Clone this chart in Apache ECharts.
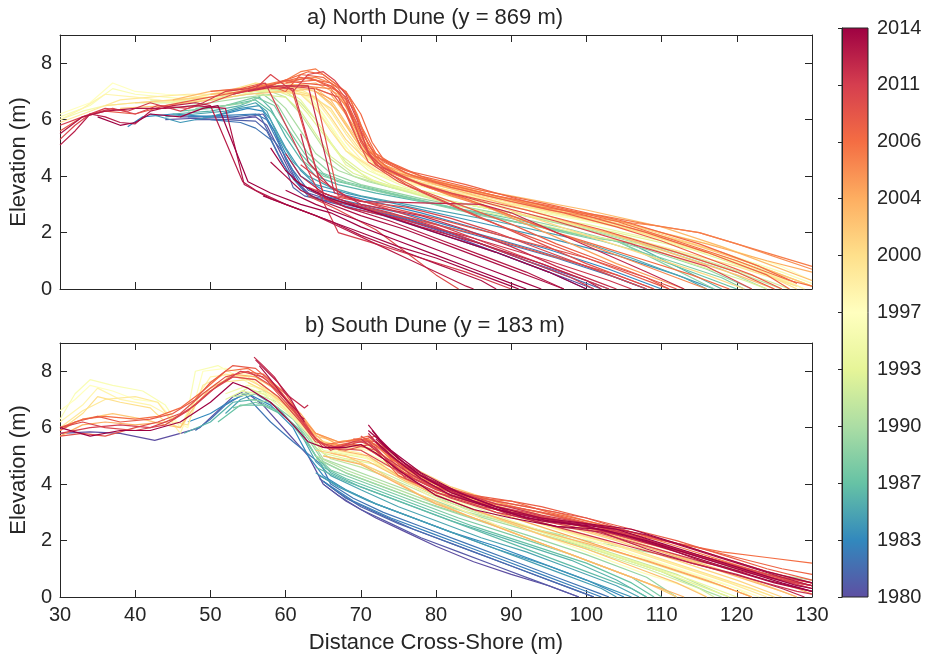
<!DOCTYPE html>
<html>
<head>
<meta charset="utf-8">
<script src="https://cdn.jsdelivr.net/npm/echarts@6/dist/echarts.min.js"></script>
<style>
html,body{margin:0;padding:0;background:#fff;}
#chart{width:932px;height:658px;}
</style>
</head>
<body>
<div id="chart"></div>
<script>
// ---- Colorbar tick labels (evenly spaced along the colorbar) ----
const colorbarLabels = ['1980','1983','1987','1990','1993','1997','2000','2004','2006','2011','2014'];
const colorbarYears = [1980,1983,1987,1990,1993,1997,2000,2004,2006,2011,2014];
const xTicks = {min:30, max:130, interval:10};
const yTicks = {min:0, max:9, interval:2};

// ---- North dune profiles: [surveyYear, [x1,y1, x2,y2, ...]] ----
const north1980s = [
  [1980,   [44,6.0, 48,6.05, 52,6.0, 56,6.1, 57.5,5.8, 59,5.0, 60.5,4.2, 62,3.6, 64,3.2, 68,3.0, 74,2.6, 80,2.1, 86,1.5, 92,0.9, 98,0.3, 101,0]],
  [1980.5, [46,6.1, 50,6.1, 54,6.05, 57,6.2, 58.5,5.6, 60,4.6, 61.5,3.8, 63,3.4, 66,3.15, 72,2.8, 78,2.3, 85,1.7, 92,1.0, 100,0.3, 103,0]],
  [1981,   [48,6.0, 52,6.0, 56,5.95, 57.5,5.6, 59,4.8, 60,4.3, 61,3.6, 62.5,3.3, 67,3.0, 73,2.6, 80,2.0, 88,1.3, 95,0.6, 100,0]],
  [1981.5, [49,6.1, 53,6.1, 56.5,6.2, 58,5.4, 59.5,4.9, 61,4.2, 63,3.5, 66,3.2, 70,2.9, 76,2.5, 83,1.9, 90,1.2, 97,0.5, 102,0]],
  [1982,   [50,6.0, 54,5.9, 56,5.7, 58,5.3, 59.5,4.5, 61,3.9, 63,3.3, 67,3.1, 72,2.8, 80,2.3, 88,1.7, 96,1.1, 104,0.4, 108,0]],
  [1982.5, [47,6.1, 52,6.15, 56,6.2, 57.5,6.0, 59,5.2, 60.5,4.4, 62,3.7, 65,3.3, 70,3.0, 77,2.6, 85,2.0, 93,1.4, 100,0.8, 106,0.2, 108,0]],
  [1983,   [39,5.75, 41,6.1, 45,6.2, 50,6.1, 55,6.4, 57,6.3, 58.5,5.6, 60,4.8, 62,4.0, 65,3.5, 70,3.2, 78,2.7, 86,2.1, 95,1.4, 103,0.7, 110,0]],
  [1984,   [42,6.2, 46,5.9, 50,6.1, 54,6.4, 56.5,6.5, 58,6.0, 60,5.0, 62,4.2, 64,3.7, 68,3.4, 75,3.0, 85,2.4, 95,1.8, 104,1.2, 112,0.5, 117,0]],
  [1985,   [44,6.1, 48,6.2, 52,6.3, 56,6.6, 57.5,6.3, 59,5.4, 61,4.5, 63,4.0, 66,3.6, 70,3.3, 78,2.9, 88,2.4, 98,1.8, 106,1.1, 113,0.4, 116,0]],
  [1986,   [45,6.2, 50,6.3, 54,6.5, 56.5,6.8, 58,6.4, 60,5.4, 62,4.6, 64,4.0, 67,3.7, 72,3.4, 80,3.0, 90,2.4, 100,1.9, 106,1.6, 112,0.8, 118,0]],
  [1987,   [46,6.3, 50,6.4, 54,6.6, 56,6.7, 58,6.3, 60,5.6, 62,4.8, 64,4.2, 67,3.8, 72,3.5, 80,3.0, 90,2.5, 98,2.0, 104,1.7, 110,1.0, 117,0.3, 120,0]],
  [1988,   [48,6.4, 52,6.5, 56,6.8, 58.5,6.5, 60.5,5.6, 62.5,4.8, 65,4.1, 68,3.8, 74,3.4, 82,2.9, 92,2.3, 102,1.7, 110,1.1, 118,0.4, 121,0]],
  [1988.5, [62,4.6, 65,4.0, 70,3.6, 78,3.1, 86,2.6, 94,2.2, 101,1.8, 104,1.7, 108,1.2, 114,0.4, 117,0]],
  [1989,   [47,6.3, 52,6.5, 55,6.6, 57,6.9, 59,6.5, 61,5.6, 63,4.8, 66,4.1, 70,3.7, 78,3.2, 88,2.7, 98,2.1, 108,1.4, 116,0.7, 122,0]]
];
const north1990s = [
  [1990,   [45,6.4, 50,6.6, 55,6.8, 58,6.9, 60,6.4, 62,5.6, 64,4.8, 67,4.2, 71,3.8, 80,3.2, 90,2.7, 100,2.1, 110,1.4, 118,0.7, 124,0]],
  [1991,   [40,6.6, 45,6.6, 50,6.7, 55,6.9, 58,7.0, 60,6.8, 62,6.2, 64,5.4, 66,4.6, 69,4.0, 74,3.6, 82,3.1, 92,2.6, 102,2.0, 112,1.3, 120,0.6, 126,0]],
  [1992,   [42,6.7, 48,6.6, 53,6.9, 57,7.1, 60,7.0, 62,6.6, 64,6.0, 66,5.2, 68,4.5, 71,3.9, 77,3.4, 86,2.9, 96,2.4, 106,1.8, 116,1.0, 124,0.3, 127,0]],
  [1992.5, [56,6.9, 60,6.8, 62,6.3, 64,5.5, 66,4.7, 69,4.1, 74,3.6, 82,3.0, 92,2.4, 100,1.9, 107,1.6, 114,0.9, 121,0.3, 124,0]],
  [1993,   [44,6.6, 50,6.8, 55,7.0, 59,7.0, 61,6.8, 63,6.2, 65,5.5, 67,4.8, 70,4.2, 74,3.7, 82,3.1, 92,2.6, 104,2.0, 114,1.4, 124,0.5, 128,0.1]],
  [1994,   [45,6.6, 51,6.7, 56,7.0, 60,7.1, 62,6.7, 64,6.0, 66,5.2, 68,4.4, 72,3.8, 80,3.2, 90,2.7, 100,2.3, 110,1.7, 120,1.0, 128,0.3, 130,0.1]],
  [1995,   [30,6.0, 33,6.3, 36,6.5, 40,6.6, 45,6.6, 50,6.9, 55,7.1, 60,7.2, 62,7.0, 64,6.4, 66,5.7, 68,4.9, 71,4.2, 76,3.6, 85,3.1, 95,2.7, 105,2.2, 115,1.4, 125,0.5, 129,0]],
  [1996,   [30,6.1, 34,6.5, 37,7.1, 40,6.9, 44,6.8, 48,6.7, 52,6.9, 56,7.3, 60,7.2, 63,6.9, 65,6.2, 67,5.4, 69,4.7, 72,4.1, 78,3.5, 88,3.0, 98,2.5, 108,2.0, 118,1.3, 126,0.6, 130,0.2]],
  [1997,   [30,6.2, 34,6.6, 37,7.3, 40,7.0, 44,6.9, 50,6.8, 55,7.2, 59,7.1, 62,7.0, 64,6.5, 66,5.8, 68,5.0, 71,4.3, 75,3.8, 84,3.3, 94,2.8, 104,2.4, 110,2.0, 118,1.5, 126,0.8, 130,0.3]],
  [1998,   [30,6.0, 33,6.4, 36,6.9, 40,6.8, 46,6.6, 52,6.8, 57,7.3, 61,7.0, 64,6.7, 66,6.0, 68,5.2, 70,4.6, 74,3.9, 82,3.4, 92,2.9, 102,2.4, 112,1.6, 122,0.8, 129,0]],
  [1999,   [30,5.9, 34,6.3, 38,6.7, 42,6.8, 47,6.9, 52,6.9, 57,7.2, 61,7.2, 64,6.8, 66,6.3, 68,5.5, 70,4.8, 73,4.2, 80,3.6, 90,3.0, 100,2.5, 110,1.8, 120,1.0, 127,0.2]],
  [1999.5, [58,7.0, 62,6.9, 64,6.4, 66,5.6, 68,4.9, 72,4.2, 80,3.5, 90,2.8, 100,2.2, 110,1.5, 120,0.8, 128,0.1]]
];
const north2000s = [
  [2000,   [36,6.5, 40,6.6, 46,6.7, 52,7.0, 56,7.3, 60,7.1, 63,6.9, 66,6.4, 68,5.6, 70,4.9, 73,4.2, 78,3.8, 86,3.3, 96,2.7, 106,2.1, 116,1.3, 124,0.5, 128,0]],
  [2000.5, [60,7.0, 64,6.8, 66,6.1, 68,5.3, 71,4.5, 76,3.9, 84,3.3, 92,2.6, 100,1.9, 108,1.2, 116,0.5, 121,0]],
  [2001,   [40,6.6, 45,6.7, 50,6.8, 55,7.0, 60,7.2, 64,7.0, 67,6.3, 69,5.4, 71,4.7, 74,4.2, 80,3.8, 88,3.3, 98,2.7, 108,2.1, 118,1.3, 126,0.5, 130,0.1]],
  [2002,   [38,6.4, 44,6.5, 50,6.7, 55,6.9, 60,7.0, 64,7.1, 66,6.7, 68,5.9, 70,5.1, 72,4.5, 76,4.0, 84,3.5, 94,2.9, 104,2.3, 114,1.6, 122,0.9, 128,0.3, 130,0.1]],
  [2002.5, [64,7.0, 66,6.6, 68,5.8, 70,5.0, 73,4.3, 80,3.7, 88,3.1, 96,2.5, 104,1.9, 112,1.2, 120,0.5, 125,0]],
  [2003,   [45,6.7, 50,7.0, 55,7.1, 59,7.3, 63,7.2, 66,6.9, 68,6.2, 70,5.2, 72,4.5, 76,4.1, 82,3.7, 90,3.3, 100,2.8, 110,2.2, 118,1.5, 124,0.9, 130,0.3]],
  [2004,   [50,6.9, 55,7.0, 60,7.2, 64,7.3, 67,6.9, 69,6.0, 71,5.0, 73,4.4, 78,3.9, 86,3.4, 95,2.9, 103,2.5, 110,2.0, 116,1.6, 124,1.0, 130,0.6]],
  [2004.5, [64,7.0, 67,6.6, 69,5.8, 71,4.8, 74,4.1, 80,3.5, 86,3.0, 92,2.3, 98,1.6, 104,0.9, 110,0.3, 113,0]],
  [2005,   [52,7.0, 57,7.2, 61,7.4, 64,7.5, 66,7.3, 68,6.6, 70,5.4, 72,4.6, 75,4.1, 82,3.6, 90,3.1, 95,2.8, 104,2.4, 109,2.25, 115,2.0, 120,1.6, 130,0.7]],
  [2005.2, [62,7.2, 66,7.1, 68,6.5, 70,5.3, 72,4.5, 76,3.9, 82,3.3, 88,2.8, 94,2.2, 100,1.6, 106,1.0, 112,0.4, 116,0]],
  [2005.5, [55,7.1, 60,7.4, 62,7.7, 64,7.8, 66,7.4, 68,7.0, 69.5,6.2, 71,5.1, 73,4.5, 77,4.0, 85,3.5, 94,2.9, 102,2.6, 108,2.3, 115,2.0, 120,1.6, 130,0.8]],
  [2006,   [54,7.0, 58,7.2, 61,7.5, 63,7.7, 65,7.6, 67,7.2, 68.5,6.8, 70,5.8, 72,4.8, 75,4.3, 80,3.8, 88,3.3, 96,2.9, 104,2.4, 112,1.7, 120,1.0, 127,0.3, 130,0.1]],
  [2006.2, [60,7.3, 64,7.4, 67,7.0, 69,6.1, 71,4.9, 74,4.2, 79,3.6, 84,3.2, 90,2.6, 96,2.0, 102,1.5, 108,1.0, 114,0.5, 119,0]],
  [2006.5, [56,7.1, 59,7.3, 62,7.5, 64,7.4, 66,7.3, 68,7.0, 70,6.2, 71.5,5.2, 73,4.6, 78,4.0, 86,3.5, 95,3.0, 105,2.4, 115,1.6, 123,0.8, 128,0.2]],
  [2007,   [50,7.0, 54,7.1, 57,7.3, 60,7.0, 62,7.6, 65,7.5, 67,7.1, 69,6.4, 70.5,5.4, 72,4.7, 76,4.2, 84,3.7, 92,3.1, 100,2.6, 108,2.0, 116,1.3, 124,0.5, 127,0]],
  [2007.2, [60,7.3, 63,7.5, 66,7.2, 68,6.7, 70,5.6, 72,4.7, 76,4.1, 82,3.6, 90,3.1, 97,2.7, 104,2.2, 110,1.7, 116,1.1, 122,0.5, 126,0]],
  [2007.5, [66,7.0, 68,6.3, 70,5.0, 73,4.2, 78,3.5, 84,2.9, 90,2.3, 96,1.6, 102,1.0, 108,0.4, 111,0]],
  [2008,   [30,5.6, 33,6.1, 36,6.3, 40,6.2, 44,6.5, 48,6.7, 52,6.9, 56,7.1, 58,7.2, 60,7.4, 62,7.3, 66,7.2, 68,6.8, 70,5.2, 72,4.4, 76,3.9, 82,3.4, 92,2.8, 102,2.1, 112,1.3, 120,0.6, 125,0]],
  [2008.2, [64,7.1, 67,6.8, 69,5.6, 71,4.5, 75,3.8, 80,3.2, 86,2.5, 92,1.9, 98,1.3, 104,0.7, 110,0.1, 111,0]],
  [2008.5, [58,7.1, 60.8,7.1, 65.2,3.2, 70,2.9, 78,2.4, 86,1.9, 95,1.2, 104,0.5, 109,0]],
  [2009,   [60,7.2, 63.8,7.1, 67,3.3, 72,3.0, 80,2.5, 90,1.8, 100,1.1, 108,0.4, 112,0]],
  [2009.2, [68,6.6, 70,5.3, 72,4.4, 76,3.7, 82,3.0, 88,2.3, 94,1.6, 100,0.9, 106,0.3, 109,0]],
  [2009.5, [63,3.3, 67,2.8, 72,2.1, 76,1.3, 80,0.5, 83,0]]
];
const north2010s = [
  [2010,   [30,5.3, 32,5.8, 34,6.2, 37,6.4, 40,6.2, 43,6.5, 47,6.4, 50,6.6, 53,6.9, 56,7.1, 58,7.6, 61,7.0, 63,7.6, 65,7.7, 66.5,7.4, 68,6.9, 69.5,6.0, 71,4.8, 73,4.3, 78,3.7, 86,3.1, 96,2.4, 106,1.6, 116,0.8, 122,0]],
  [2010.2, [63,3.6, 66,3.3, 70,3.1, 76,2.9, 82,2.5, 88,2.0, 94,1.4, 100,0.8, 106,0.2, 108,0]],
  [2010.6, [62,4.4, 65,3.8, 68,3.3, 74,2.8, 80,2.3, 86,1.7, 92,1.1, 98,0.5, 103,0]],
  [2011,   [30,5.8, 33,6.1, 36,6.4, 39,6.3, 42,6.6, 46,6.3, 49,6.6, 52,7.0, 55,7.1, 57.3,7.3, 67,2.0, 72,1.6, 78,1.1, 84,0.6, 90,0]],
  [2011.2, [64,3.5, 68,3.1, 74,2.7, 80,2.2, 86,1.6, 92,1.0, 98,0.4, 101,0]],
  [2011.5, [53,6.9, 58,7.2, 61,7.1, 65.2,3.2, 68,2.9, 75,2.5, 85,1.8, 95,1.0, 103,0.3, 106,0]],
  [2011.8, [62,5.5, 63,4.5, 66,3.6, 70,3.0, 78,2.6, 84,2.1, 90,1.5, 96,0.8, 102,0.2, 104,0]],
  [2012,   [55,7.0, 59,7.2, 63,7.2, 66.5,3.4, 70,3.1, 78,3.05, 86,3.0, 90,2.7, 96,2.0, 102,1.3, 108,0.6, 113,0]],
  [2012.3, [60,4.8, 62,4.0, 65,3.4, 70,2.9, 78,2.2, 86,1.6, 94,0.9, 100,0.3, 102,0]],
  [2012.6, [30,5.1, 32,5.6, 34,6.2, 36,6.1, 38,5.9, 40,5.85, 42,6.3, 45,6.5, 48,6.6, 50,6.5, 54.3,3.8, 56,3.5, 60,3.0, 64,2.6, 68,2.1, 72,1.6, 76,1.1, 80,0.6, 84,0.1, 85,0]],
  [2012.8, [61,3.9, 64,3.4, 68,2.9, 74,2.4, 80,1.8, 86,1.2, 92,0.6, 97,0]],
  [2013,   [30,5.5, 33,6.1, 36,6.3, 40,6.4, 44,6.4, 48,6.5, 52,6.4, 54.5,3.7, 58,3.2, 62,2.8, 66,2.4, 70,1.9, 75,1.4, 80,0.9, 86,0.3, 88,0]],
  [2013.3, [58,4.5, 60,4.0, 62,3.5, 65,3.1, 70,2.6, 76,2.1, 82,1.5, 88,0.9, 94,0.3, 97,0]],
  [2013.6, [57,3.3, 61,2.9, 65,2.5, 70,2.0, 75,1.5, 80,1.1, 85,0.6, 90,0.1, 91,0]],
  [2013.8, [60,3.5, 64,3.0, 69,2.5, 75,1.9, 81,1.3, 87,0.7, 92,0.2, 94,0]],
  [2014,   [35,6.1, 38,5.8, 40,5.9, 42,6.2, 46,6.1, 49,6.4, 51,6.5, 55,3.8, 58,3.4, 62,3.0, 66,2.7, 70,2.2, 75,1.7, 80,1.2, 85,0.7, 90,0.2, 92,0]],
  [2014,   [58,5.0, 60,4.2, 62,3.7, 66,3.2, 72,2.7, 80,2.0, 88,1.3, 95,0.6, 100,0]]
];

// ---- South dune profiles ----
const south1980s = [
  [1980,   [30,5.8, 34,5.85, 38,5.8, 42.6,5.55, 46,5.8, 48.6,6.0, 51,6.6, 53,7.1, 54.5,7.3, 57,6.8, 60,5.9, 63,5.0, 65,4.0, 68,3.4, 72,2.8, 76,2.3, 80,1.8, 85,1.25, 90,0.8, 95,0.4, 99,0]],
  [1980.5, [65,4.0, 67,3.6, 70,3.1, 74,2.6, 78,2.1, 83,1.6, 88,1.1, 93,0.6, 97,0.2, 99,0]],
  [1981,   [64.5,4.2, 67,3.7, 70,3.2, 75,2.6, 80,2.1, 85,1.6, 90,1.1, 95,0.6, 100,0.1, 101,0]],
  [1981.5, [65,4.1, 68,3.5, 72,3.0, 77,2.4, 82,1.9, 88,1.3, 94,0.7, 99,0.2, 101,0]],
  [1982,   [48,5.9, 50,6.3, 52,6.8, 54.5,7.2, 58,6.2, 61,5.5, 64.7,4.7, 66,4.0, 69,3.5, 73,3.0, 78,2.5, 84,1.9, 90,1.3, 96,0.7, 102,0.1, 103,0]],
  [1982.5, [65,4.1, 69,3.4, 74,2.8, 79,2.3, 84,1.8, 89,1.3, 94,0.8, 99,0.3, 102,0]],
  [1983,   [47,6.2, 50,6.5, 53,7.0, 55,7.2, 58,6.8, 61,6.0, 63,5.0, 65,4.3, 68,3.8, 72,3.3, 77,2.8, 82,2.3, 88,1.8, 94,1.2, 100,0.6, 105,0]],
  [1984,   [64,4.4, 67,3.9, 71,3.4, 76,2.9, 82,2.3, 88,1.7, 95,1.1, 101,0.5, 106,0]],
  [1984.5, [64.5,4.3, 68,3.8, 72,3.3, 78,2.7, 84,2.1, 90,1.5, 96,0.9, 102,0.3, 104,0]],
  [1985,   [52,6.5, 54,7.0, 56,7.2, 59,6.7, 62,5.8, 64,4.8, 66,4.3, 70,3.8, 75,3.2, 80,2.7, 86,2.1, 92,1.6, 98,1.0, 104,0.4, 107,0]],
  [1986,   [46.5,5.8, 50,6.2, 53,6.9, 56,7.0, 59,6.6, 62,5.9, 64,5.0, 66,4.4, 70,3.9, 75,3.4, 82,2.7, 90,2.0, 98,1.3, 104,0.6, 108,0]],
  [1986.5, [64,4.6, 68,4.1, 73,3.6, 79,3.0, 86,2.3, 93,1.6, 100,0.9, 106,0.3, 108,0]],
  [1987,   [51,6.2, 54,6.8, 57,6.8, 60,6.4, 63,5.4, 65,4.6, 68,4.2, 72,3.8, 78,3.2, 85,2.5, 92,1.9, 100,1.2, 106,0.5, 109,0]],
  [1988,   [53,6.7, 56,6.9, 59,6.6, 62,5.9, 64,5.0, 66,4.5, 70,4.1, 76,3.5, 83,2.8, 90,2.2, 98,1.5, 106,0.7, 110,0]],
  [1989,   [55,7.0, 58,6.9, 61,6.3, 63,5.6, 65,4.8, 68,4.4, 72,4.0, 78,3.4, 85,2.8, 92,2.2, 100,1.5, 108,0.7, 112,0]],
  [1989.5, [64,4.9, 68,4.4, 73,3.9, 80,3.2, 88,2.5, 96,1.7, 104,0.9, 110,0.3, 112,0]]
];
const south1990s = [
  [1990,   [54,7.2, 57,7.3, 60,6.7, 63,5.7, 65,4.9, 68,4.6, 72,4.2, 78,3.6, 85,2.9, 93,2.3, 102,1.6, 110,0.9, 116,0.2, 118,0]],
  [1990.5, [64,5.0, 68,4.5, 74,3.9, 80,3.3, 90,2.6, 100,2.0, 110,1.5, 120,1.0, 130,0.6]],
  [1991,   [53,7.1, 56,7.2, 59,6.9, 62,6.2, 64,5.3, 66,4.9, 70,4.6, 74,4.2, 80,3.5, 88,2.8, 96,2.2, 104,1.5, 112,0.8, 118,0.1, 119,0]],
  [1992,   [65,5.0, 69,4.8, 73,4.4, 78,3.8, 84,3.1, 92,2.4, 100,1.7, 108,1.0, 115,0.3, 117,0]],
  [1993,   [52,7.0, 55,7.4, 58,7.1, 61,6.5, 63,5.8, 65,5.1, 68,4.9, 72,4.7, 75,4.3, 80,3.6, 86,3.0, 94,2.3, 102,1.6, 110,0.9, 117,0.2, 119,0]],
  [1994,   [54,7.3, 57,7.2, 60,6.6, 63,5.8, 65,5.2, 69,5.0, 73,4.8, 77,4.2, 83,3.4, 90,2.7, 98,2.0, 106,1.3, 114,0.6, 120,0]],
  [1995,   [52,7.2, 55,7.5, 58,7.3, 61,6.6, 64,5.6, 66,5.2, 70,5.0, 74,4.6, 80,3.8, 88,3.0, 96,2.3, 104,1.6, 112,0.9, 120,0.2, 122,0]],
  [1996,   [30,6.3, 32,7.2, 34,7.7, 37,7.5, 41,7.3, 44,6.8, 46,6.0, 47,6.6, 48,8.0, 51,8.2, 55,7.6, 58,7.1, 61,6.5, 63,5.8, 66,5.3, 70,5.2, 74,4.7, 80,3.9, 88,3.1, 96,2.4, 104,1.7, 112,1.0, 120,0.3, 122,0]],
  [1996.5, [66,5.2, 70,5.0, 74,4.5, 80,3.7, 86,3.0, 93,2.3, 100,1.6, 107,0.9, 114,0.3, 116,0]],
  [1997,   [30,6.6, 32,7.0, 34,7.5, 37,7.3, 40,7.0, 43,6.9, 45,6.3, 47,6.0, 49,8.0, 52,8.1, 56,7.8, 59,7.0, 62,6.2, 64,5.6, 67,5.4, 71,5.3, 74,4.8, 80,4.0, 86,3.3, 94,2.6, 102,1.9, 110,1.2, 118,0.5, 123,0]],
  [1998,   [30,6.2, 33,6.8, 35,7.4, 38,7.0, 42,6.8, 44,6.5, 46,5.8, 47.5,6.8, 50,7.8, 53,7.9, 56,7.6, 59,6.9, 62,6.1, 64,5.5, 67,5.3, 71,5.2, 74,4.9, 80,4.1, 86,3.4, 92,2.8, 100,2.2, 108,1.5, 116,0.8, 124,0.1, 125,0]],
  [1998.5, [66,5.3, 70,5.1, 74,4.4, 79,3.6, 85,2.9, 91,2.2, 97,1.6, 103,1.0, 109,0.4, 112,0]],
  [1999,   [30,6.0, 33,6.6, 36,7.0, 40,7.1, 43,6.9, 45,6.2, 47,6.1, 49,7.5, 52,7.9, 55,7.8, 58,7.2, 61,6.4, 64,5.6, 67,5.2, 71,5.3, 74,4.9, 80,4.0, 87,3.2, 95,2.5, 103,1.9, 111,1.2, 119,0.5, 124,0]]
];
const south2000s = [
  [2000,   [30,5.9, 33,6.5, 35,7.1, 38,6.9, 42,6.7, 44,6.2, 46,6.0, 48,7.0, 51,7.6, 55,7.7, 58,7.3, 61,6.5, 64,5.6, 67,5.3, 71,5.4, 73,5.2, 76,4.5, 82,3.7, 90,2.9, 98,2.3, 106,1.7, 114,1.0, 122,0.3, 125,0]],
  [2001,   [55,7.6, 58,7.2, 61,6.6, 64,5.8, 67,5.5, 70,5.6, 73,5.3, 76,4.6, 82,3.8, 88,3.2, 96,2.6, 104,2.0, 112,1.3, 120,0.6, 126,0]],
  [2001.5, [64,5.2, 68,5.0, 72,4.5, 78,3.6, 84,2.9, 90,2.3, 96,1.7, 102,1.1, 108,0.5, 112,0]],
  [2002,   [30,5.9, 33,6.3, 37,6.5, 41,6.3, 44,6.1, 46,6.0, 48,6.8, 50,7.4, 53,7.8, 56,7.7, 59,7.1, 62,6.3, 64,5.7, 67,5.5, 71,5.6, 73,5.4, 76,4.7, 82,3.9, 90,3.2, 98,2.6, 106,2.0, 114,1.3, 122,0.6, 128,0]],
  [2002.5, [66,5.1, 71,4.8, 76,4.1, 82,3.4, 88,2.8, 94,2.2, 100,1.7, 106,1.1, 112,0.5, 116,0]],
  [2003,   [60,6.9, 63,6.0, 65,5.5, 68,5.3, 72,5.4, 75,4.8, 80,4.0, 86,3.4, 94,2.8, 102,2.2, 110,1.6, 118,0.9, 126,0.2, 128,0]],
  [2003.2, [67,5.2, 71,5.0, 75,4.3, 80,3.6, 86,3.0, 93,2.4, 100,1.9, 108,1.3, 116,0.6, 122,0]],
  [2003.5, [65,5.0, 70,4.7, 75,4.0, 80,3.3, 86,2.7, 92,2.1, 98,1.5, 104,0.9, 110,0.3, 113,0]],
  [2004,   [30,5.7, 33,6.1, 36,6.2, 40,6.1, 44,6.2, 47,6.6, 50,7.3, 53,7.9, 56,7.8, 59,7.3, 62,6.5, 64,5.8, 67,5.4, 70,5.5, 73,5.3, 76,4.5, 82,3.7, 88,3.2, 96,2.7, 104,2.2, 112,1.6, 120,0.9, 128,0.3, 130,0.1]],
  [2004.5, [66,5.4, 70,5.4, 73,4.9, 77,4.2, 82,3.6, 88,3.0, 95,2.4, 102,1.8, 110,1.1, 118,0.4, 122,0]],
  [2005,   [62,6.4, 64,5.8, 67,5.5, 70,5.6, 72,5.4, 75,4.6, 80,3.9, 86,3.5, 92,3.1, 100,2.6, 108,2.0, 116,1.4, 124,0.8, 130,0.4]],
  [2005.5, [68,5.5, 71,5.6, 74,4.9, 78,4.2, 84,3.6, 90,3.3, 96,3.0, 100,2.7, 106,2.3, 112,1.8, 118,1.3, 124,0.8, 130,0.5]],
  [2006,   [30,6.0, 33,6.3, 36,6.4, 40,6.3, 43,6.4, 46,6.7, 49,7.3, 52,8.0, 55,8.1, 58,7.6, 61,6.7, 63,5.9, 65,5.4, 68,5.5, 71,5.7, 73,5.3, 75,4.5, 80,3.9, 85,3.5, 90,3.4, 95,3.0, 100,2.7, 106,2.3, 112,1.9, 118,1.6, 124,1.4, 130,1.2]],
  [2007,   [54,8.0, 57,7.9, 60,7.2, 62,6.4, 64,5.6, 66,5.3, 69,5.4, 72,5.2, 75,4.3, 80,3.7, 85,3.4, 90,3.2, 96,2.9, 102,2.5, 108,2.1, 114,1.8, 120,1.4, 126,1.0, 130,0.8]],
  [2007.5, [69,5.6, 72,5.5, 75,4.7, 80,4.0, 85,3.6, 90,3.4, 94,3.2, 100,2.8, 106,2.4, 112,2.0, 118,1.5, 124,1.0, 130,0.6]],
  [2008,   [30,5.9, 32,6.2, 35,6.4, 38,6.2, 42,6.3, 45,6.5, 48,7.0, 50,7.6, 53,8.2, 56,8.1, 59,7.4, 62,6.4, 64,5.6, 66,5.3, 69,5.5, 72,5.7, 74,5.0, 77,4.2, 82,3.7, 88,3.3, 94,3.0, 100,2.6, 108,2.0, 116,1.4, 124,0.8, 130,0.4]],
  [2008.5, [70,5.7, 73,5.2, 77,4.4, 82,3.8, 88,3.4, 94,3.1, 100,2.8, 106,2.3, 112,1.9, 118,1.4, 124,0.9, 130,0.5]],
  [2009,   [30,5.7, 33,5.8, 36,5.7, 40,6.0, 43,6.2, 46,6.5, 49,7.2, 52,7.8, 55,8.0, 58,7.5, 61,6.6, 63,5.9, 65,5.3, 68,5.2, 71,5.4, 73,5.0, 76,4.3, 82,3.6, 88,3.2, 96,2.7, 104,2.3, 112,1.7, 120,1.1, 128,0.5, 130,0.4]],
  [2009.5, [70,5.4, 73,4.9, 77,4.2, 82,3.6, 88,3.1, 95,2.8, 102,2.5, 108,2.0, 114,1.5, 120,1.0, 126,0.6, 130,0.4]]
];
const south2010s = [
  [2010,   [30,6.0, 33,6.2, 36,6.0, 40,5.9, 44,6.1, 47,6.6, 50,7.3, 53,7.8, 56,7.7, 59,7.1, 62,6.2, 64,5.5, 67,5.3, 70,5.5, 72,5.3, 75,4.4, 80,3.7, 86,3.2, 92,2.9, 100,2.5, 108,1.9, 116,1.4, 124,0.8, 130,0.5]],
  [2010.5, [65,5.3, 70,5.2, 74,4.6, 80,3.8, 86,3.3, 92,3.0, 98,2.6, 104,2.2, 110,1.8, 118,1.2, 126,0.6, 130,0.3]],
  [2011,   [30,5.8, 34,6.0, 38,6.1, 42,6.0, 45,6.3, 48,6.8, 51,7.5, 54,8.0, 57,7.8, 60,7.0, 62,6.3, 64,5.6, 66,5.2, 69,5.5, 71,5.5, 73,5.0, 76,4.2, 82,3.5, 88,3.0, 94,2.7, 100,2.4, 108,1.8, 116,1.2, 124,0.7, 130,0.3]],
  [2011.2, [71,5.7, 74,5.0, 78,4.3, 82,3.8, 88,3.3, 94,2.9, 100,2.6, 106,2.2, 112,1.7, 118,1.2, 124,0.7, 130,0.4]],
  [2011.5, [70,5.6, 73,5.0, 77,4.3, 82,3.6, 87,3.2, 93,2.7, 100,2.2, 107,1.7, 114,1.2, 121,0.7, 128,0.2, 130,0.1]],
  [2012,   [55.8,8.5, 57,8.2, 58.5,7.8, 60,7.2, 61.5,6.9, 62.5,6.7, 63,6.8]],
  [2012.3, [71,5.8, 73,5.2, 76,4.6, 80,4.0, 85,3.4, 90,2.9, 96,2.5, 102,2.3, 108,1.7, 114,1.2, 120,0.8, 126,0.3, 129,0]],
  [2012.6, [56,8.4, 57.5,8.0, 59,7.6, 60.5,7.1, 62,6.4, 62.5,6.3]],
  [2012.8, [72,5.6, 75,4.9, 79,4.2, 84,3.6, 90,3.0, 96,2.7, 102,2.5, 108,2.2, 114,1.7, 120,1.2, 126,0.7, 130,0.4]],
  [2013,   [56.5,8.2, 58,7.7, 60,7.0, 61.5,6.6, 62.5,6.2]],
  [2013.3, [71,6.1, 72.5,5.6, 74,5.2, 76,4.7, 78,4.3, 81,3.9, 85,3.5, 90,3.0, 95,2.7, 100,2.5, 105,2.2, 110,1.8, 115,1.3, 120,0.9, 125,0.5, 130,0.2]],
  [2013.6, [72,5.5, 75,4.8, 78,4.2, 82,3.6, 88,3.1, 94,2.7, 100,2.5, 106,2.1, 112,1.6, 118,1.1, 124,0.6, 130,0.2]],
  [2013.8, [71,5.9, 74,5.2, 78,4.4, 83,3.7, 88,3.2, 94,2.8, 100,2.6, 106,2.4, 112,1.9, 118,1.4, 124,0.9, 130,0.5]],
  [2014,   [30,6.0, 34,5.7, 38,5.9, 42,5.9, 46,6.2, 50,6.9, 53,7.6, 55,7.4, 58,6.9, 61,6.1, 63,5.5, 65,5.3, 68,5.3, 70,5.4, 72,5.1, 75,4.5, 80,3.6, 85,3.1, 90,2.8, 96,2.5, 102,2.4, 108,2.0, 114,1.5, 120,1.0, 126,0.5, 130,0.2]],
  [2014,   [71.5,5.9, 73,5.4, 75,4.9, 78,4.3, 82,3.7, 86,3.3, 92,2.8, 98,2.6, 104,2.4, 110,1.9, 116,1.4, 122,0.9, 128,0.4, 130,0.3]]
];

// ---- Colormap (Spectral, 1980 at bottom -> 2014 at top) ----
const cmap = ['#5e4fa2','#3288bd','#66c2a5','#abdda4','#e6f598','#ffffbf','#fee08b','#fdae61','#f46d43','#d53e4f','#9e0142'];

function hexToRgb(h){return [parseInt(h.slice(1,3),16),parseInt(h.slice(3,5),16),parseInt(h.slice(5,7),16)];}
function yearToPos(y){
  if (y <= colorbarYears[0]) return 0;
  for (let i=1;i<colorbarYears.length;i++){
    if (y <= colorbarYears[i]) return (i-1) + (y-colorbarYears[i-1])/(colorbarYears[i]-colorbarYears[i-1]);
  }
  return colorbarYears.length-1;
}
function posToColor(p){
  const i = Math.min(Math.floor(p), cmap.length-2);
  const f = p - i;
  const a = hexToRgb(cmap[i]), b = hexToRgb(cmap[i+1]);
  const c = a.map((v,k)=>Math.round(v+(b[k]-v)*f));
  return 'rgb('+c.join(',')+')';
}
function toPairs(flat){const out=[];for(let i=0;i<flat.length;i+=2)out.push([flat[i],flat[i+1]]);return out;}

const FONT = '"Liberation Sans", Arial, Helvetica, sans-serif';
const INK = '#262626';

function makeSeries(profiles, idx){
  const sorted = profiles.slice().sort((a,b)=>a[0]-b[0]);
  return sorted.map(p=>({
    type:'line', xAxisIndex:idx, yAxisIndex:idx, data: toPairs(p[1]),
    showSymbol:false, symbol:'none', silent:true, clip:true,
    lineStyle:{color: posToColor(yearToPos(p[0])), width:1.2},
    z: 2
  }));
}

const northAll = [].concat(north1980s, north1990s, north2000s, north2010s);
const southAll = [].concat(south1980s, south1990s, south2000s, south2010s);

const G = [{left:58, top:35, width:754, height:254},{left:58, top:343, width:754, height:254}];

function xAx(grid, pos, labels, name){
  return {type:'value', gridIndex:grid, position:pos, min:xTicks.min, max:xTicks.max, interval:xTicks.interval,
    axisLine:{show:true, onZero:false, lineStyle:{color:INK, width:1}},
    axisTick:{show:true, inside:true, length:7, lineStyle:{color:INK}},
    axisLabel:{show:labels, color:INK, fontSize:20, fontFamily:FONT, margin:8},
    splitLine:{show:false},
    name: name||'', nameLocation:'middle', nameGap:35,
    nameTextStyle:{color:INK, fontSize:22, fontFamily:FONT}};
}
function yAx(grid, pos, labels, name){
  return {type:'value', gridIndex:grid, position:pos, min:yTicks.min, max:yTicks.max, interval:yTicks.interval,
    axisLine:{show:true, onZero:false, lineStyle:{color:INK, width:1}},
    axisTick:{show:true, inside:true, length:7, lineStyle:{color:INK}},
    axisLabel:{show:labels, color:INK, fontSize:20, fontFamily:FONT, margin:8, showMaxLabel:false,
      formatter:(v)=> (v % 2 === 0 ? String(v) : '')},
    splitLine:{show:false},
    name: name||'', nameLocation:'middle', nameGap:27, nameRotate:90,
    nameTextStyle:{color:INK, fontSize:22, fontFamily:FONT}};
}

const gradStops = cmap.map((c,i)=>({offset: i/(cmap.length-1), color:c}));

const option = {
  animation:false,
  backgroundColor:'#ffffff',
  title:[
    {text:'a) North Dune (y = 869 m)', left:435, top:7, textAlign:'center', padding:0,
     textStyle:{color:INK, fontSize:22, fontWeight:'normal', fontFamily:FONT}},
    {text:'b) South Dune (y = 183 m)', left:435, top:315, textAlign:'center', padding:0,
     textStyle:{color:INK, fontSize:22, fontWeight:'normal', fontFamily:FONT}}
  ],
  grid:[
    G[0], G[1],
    {left:842, top:28, width:26, height:569, show:true, borderColor:INK, borderWidth:1,
     backgroundColor:{type:'linear', x:0, y:1, x2:0, y2:0, colorStops:gradStops}}
  ],
  xAxis:[
    xAx(0,'bottom',false), xAx(1,'bottom',true,'Distance Cross-Shore (m)'),
    {type:'value', gridIndex:2, show:false, min:0, max:1},
    xAx(0,'top',false), xAx(1,'top',false)
  ],
  yAxis:[
    yAx(0,'left',true,'Elevation (m)'), yAx(1,'left',true,'Elevation (m)'),
    {type:'value', gridIndex:2, position:'right', min:0, max:colorbarLabels.length-1, interval:1,
     axisLine:{show:true, lineStyle:{color:INK}},
     axisTick:{show:true, inside:true, length:4, lineStyle:{color:INK}},
     axisLabel:{show:true, color:INK, fontSize:20, fontFamily:FONT, margin:9,
       formatter:(v)=> colorbarLabels[Math.round(v)] || ''},
     splitLine:{show:false}},
    yAx(0,'right',false), yAx(1,'right',false)
  ],
  series: [].concat(makeSeries(northAll,0), makeSeries(southAll,1), [
    {type:'line', xAxisIndex:2, yAxisIndex:2, data:[], silent:true}
  ])
};

const chart = echarts.init(document.getElementById('chart'), null, {renderer:'canvas'});
chart.setOption(option);
</script>
</body>
</html>
